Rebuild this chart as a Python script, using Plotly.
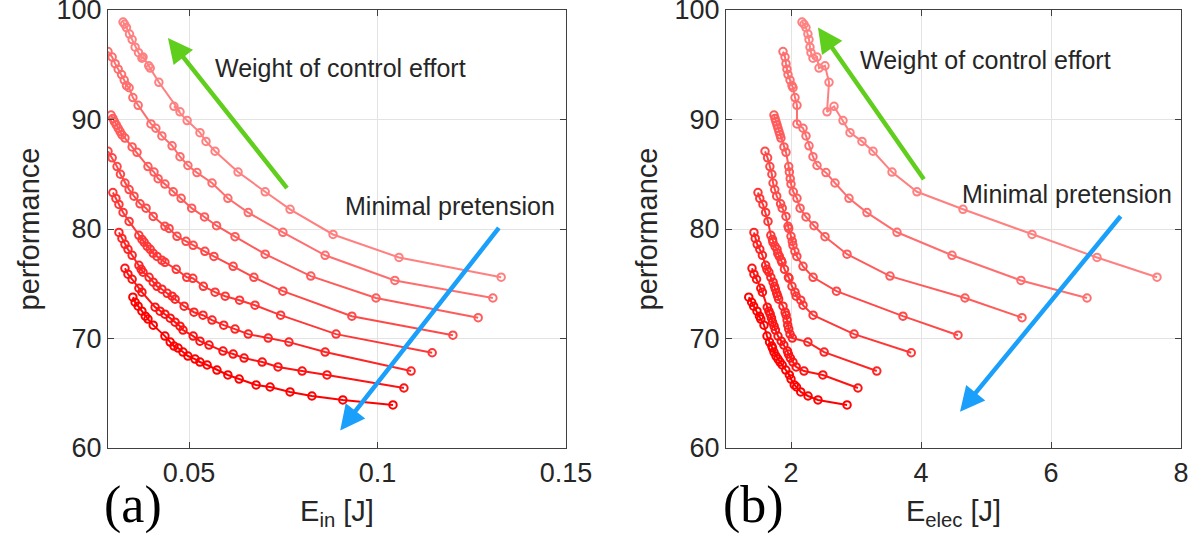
import plotly.graph_objects as go

# ---------------- data ----------------
# performance of each Pareto curve (same optimisation results in both panels)
perf_1 = [98.9, 98.7, 98.4, 97.8, 97.3, 96.6, 96.1, 95.6, 95.7, 94.7, 94.9, 93.4, 90.7, 91.2, 89.9, 88.8, 88.0, 87.1, 85.2, 83.4, 81.8, 79.5, 77.4, 75.6]
ein_1 = [0.0325, 0.0329, 0.0334, 0.0342, 0.0349, 0.0357, 0.0366, 0.0375, 0.0378, 0.0397, 0.0393, 0.0420, 0.0476, 0.0460, 0.0495, 0.0529, 0.0545, 0.0569, 0.0630, 0.0702, 0.0768, 0.0882, 0.1057, 0.1328]
eelec_1 = [2.169, 2.20, 2.23, 2.26, 2.277, 2.292, 2.308, 2.338, 2.40, 2.431, 2.523, 2.585, 2.554, 2.662, 2.80, 2.908, 3.092, 3.262, 3.554, 3.938, 4.646, 5.708, 6.708, 7.631]

perf_2 = [96.2, 95.7, 95.1, 94.6, 94.1, 93.6, 93.1, 92.9, 92.0, 91.3, 89.6, 89.2, 88.5, 87.6, 86.6, 85.8, 85.15, 84.2, 82.8, 81.5, 79.7, 77.6, 75.3, 73.7]
ein_2 = [0.0285, 0.0296, 0.0304, 0.0312, 0.0321, 0.0328, 0.0334, 0.0341, 0.0351, 0.0365, 0.0399, 0.0412, 0.0428, 0.0455, 0.0476, 0.0497, 0.0521, 0.0561, 0.0603, 0.0657, 0.0749, 0.0861, 0.1046, 0.1306]
eelec_2 = [1.877, 1.908, 1.923, 1.938, 1.954, 1.985, 2.015, 2.031, 2.062, 2.092, 2.092, 2.185, 2.231, 2.277, 2.338, 2.40, 2.538, 2.677, 2.892, 3.169, 3.631, 4.477, 5.538, 6.554]

perf_3 = [90.4, 90.1, 89.8, 89.5, 89.2, 88.9, 88.6, 88.3, 87.5, 87.0, 85.7, 85.2, 84.6, 84.1, 83.4, 82.8, 81.9, 81.1, 80.3, 79.3, 77.7, 75.7, 73.7, 71.9]
ein_3 = [0.0293, 0.0298, 0.0302, 0.0307, 0.0312, 0.0317, 0.0322, 0.0330, 0.0349, 0.0362, 0.0391, 0.0407, 0.0418, 0.0436, 0.0458, 0.0479, 0.0507, 0.0541, 0.0573, 0.0622, 0.0702, 0.0823, 0.0996, 0.1267]
eelec_3 = [1.738, 1.754, 1.769, 1.785, 1.80, 1.815, 1.831, 1.845, 1.892, 1.923, 1.965, 1.975, 1.988, 2.0, 2.035, 2.092, 2.14, 2.231, 2.354, 2.523, 2.862, 3.523, 4.677, 5.554]

perf_4 = [87.1, 86.5, 85.7, 85.0, 84.2, 83.6, 83.0, 82.3, 81.9, 81.15, 80.24, 80.05, 79.33, 78.87, 78.51, 77.96, 77.50, 76.59, 75.59, 74.32, 72.04, 70.3]
ein_4 = [0.0285, 0.0296, 0.0309, 0.0318, 0.0330, 0.0341, 0.0354, 0.0370, 0.0386, 0.0405, 0.0436, 0.0447, 0.0468, 0.0492, 0.0511, 0.0542, 0.0566, 0.0617, 0.0672, 0.0749, 0.0932, 0.1200]
eelec_4 = [1.60, 1.64, 1.675, 1.706, 1.724, 1.75, 1.78, 1.84, 1.865, 1.923, 1.954, 1.965, 2.0, 2.02, 2.03, 2.06, 2.09, 2.185, 2.34, 2.70, 3.723, 4.569]

perf_5 = [83.33, 82.79, 82.24, 81.51, 80.69, 79.42, 79.05, 78.78, 78.42, 78.14, 77.78, 77.5, 77.14, 76.96, 76.32, 75.59, 75.5, 74.77, 74.23, 73.86, 73.5, 73.04, 72.13, 70.4, 68.7]
ein_5 = [0.0298, 0.0306, 0.0314, 0.0325, 0.0341, 0.0367, 0.0375, 0.0381, 0.0389, 0.0397, 0.0405, 0.0415, 0.0428, 0.0436, 0.0466, 0.0494, 0.0510, 0.0538, 0.0569, 0.0596, 0.0634, 0.0675, 0.0743, 0.0890, 0.1145]
eelec_5 = [1.492, 1.52, 1.569, 1.61, 1.646, 1.69, 1.715, 1.723, 1.754, 1.785, 1.797, 1.82, 1.85, 1.862, 1.90, 1.96, 1.97, 2.015, 2.062, 2.08, 2.15, 2.185, 2.34, 2.97, 3.85]

perf_6 = [79.69, 79.14, 78.60, 78.14, 77.60, 76.68, 76.32, 76.05, 75.59, 75.14, 74.77, 74.50, 74.13, 73.86, 73.59, 72.95, 72.40, 72.13, 71.68, 71.22, 70.86, 70.40, 70.04, 69.67, 68.76, 67.03]
ein_6 = [0.0314, 0.0322, 0.0330, 0.0338, 0.0349, 0.0367, 0.0373, 0.0378, 0.0394, 0.0405, 0.0415, 0.0428, 0.0442, 0.0455, 0.0463, 0.0487, 0.0513, 0.0537, 0.0561, 0.0592, 0.0622, 0.0657, 0.0710, 0.0765, 0.0861, 0.1089]
eelec_6 = [1.43, 1.45, 1.48, 1.52, 1.56, 1.61, 1.63, 1.66, 1.69, 1.725, 1.745, 1.76, 1.78, 1.795, 1.81, 1.877, 1.91, 1.925, 1.94, 1.95, 1.965, 1.985, 2.02, 2.26, 2.51, 3.32]

perf_7 = [76.41, 75.87, 75.41, 74.59, 74.23, 72.86, 72.50, 72.22, 71.86, 71.49, 71.13, 70.77, 70.22, 69.76, 69.40, 68.85, 68.58, 68.21, 67.85, 67.40, 67.03, 66.67, 65.48]
ein_7 = [0.0330, 0.0338, 0.0349, 0.0367, 0.0375, 0.0410, 0.0423, 0.0436, 0.0450, 0.0463, 0.0476, 0.0484, 0.0511, 0.0529, 0.0553, 0.0590, 0.0617, 0.0646, 0.0694, 0.0736, 0.0800, 0.0866, 0.1070]
eelec_7 = [1.40, 1.43, 1.47, 1.535, 1.56, 1.635, 1.66, 1.68, 1.70, 1.715, 1.74, 1.76, 1.80, 1.85, 1.89, 1.945, 1.96, 1.99, 2.03, 2.08, 2.20, 2.49, 3.03]

perf_8 = [73.77, 73.31, 72.95, 72.50, 72.04, 71.77, 71.22, 70.22, 69.67, 69.31, 69.13, 68.76, 68.40, 68.12, 67.85, 67.58, 67.12, 66.67, 66.30, 65.76, 65.57, 65.12, 64.75, 64.39, 63.93]
ein_8 = [0.0351, 0.0357, 0.0365, 0.0375, 0.0384, 0.0391, 0.0405, 0.0436, 0.0450, 0.0460, 0.0471, 0.0484, 0.0497, 0.0516, 0.0529, 0.0548, 0.0574, 0.0603, 0.0633, 0.0678, 0.0715, 0.0768, 0.0826, 0.0908, 0.1041]
eelec_8 = [1.35, 1.395, 1.425, 1.477, 1.515, 1.535, 1.585, 1.631, 1.67, 1.705, 1.715, 1.738, 1.769, 1.80, 1.831, 1.865, 1.92, 1.975, 2.0, 2.05, 2.085, 2.15, 2.262, 2.415, 2.862]

perf_curves = [perf_1, perf_2, perf_3, perf_4, perf_5, perf_6, perf_7, perf_8]
ein_curves = [ein_1, ein_2, ein_3, ein_4, ein_5, ein_6, ein_7, ein_8]
eelec_curves = [eelec_1, eelec_2, eelec_3, eelec_4, eelec_5, eelec_6, eelec_7, eelec_8]

x_ticks_left = [0.05, 0.1, 0.15]
x_ticks_left_text = ["0.05", "0.1", "0.15"]
x_ticks_right = [2, 4, 6, 8]
y_ticks = [60, 70, 80, 90, 100]

# ---------------- styling ----------------
W, H = 1196, 545
def px_x(p):
    return p / W
def px_y(p):
    return 1 - p / H

n = len(perf_curves)
colors = []
for i in range(n):
    g = int(round(128 * (n - 1 - i) / (n - 1)))
    colors.append(f"rgb(255,{g},{g})")

fig = go.Figure()
for i in range(n):
    for xs, xa, ya in [(ein_curves[i], "x", "y"), (eelec_curves[i], "x2", "y2")]:
        fig.add_trace(go.Scatter(
            x=xs, y=perf_curves[i], xaxis=xa, yaxis=ya, mode="lines+markers",
            line=dict(color=colors[i], width=2),
            marker=dict(symbol="circle-open", size=7.5, color=colors[i], line=dict(width=2, color=colors[i])),
            showlegend=False, hoverinfo="skip",
        ))

tick_font = dict(family="Liberation Sans, Arial, sans-serif", size=27, color="#262626")
title_font = dict(family="Liberation Sans, Arial, sans-serif", size=29, color="#262626")
axis_common = dict(
    showline=True, linecolor="#404040", linewidth=1.3, mirror="ticks",
    ticks="inside", ticklen=6, tickwidth=1.3, tickcolor="#404040",
    showgrid=True, gridcolor="#e3e3e3", gridwidth=1, zeroline=False,
    tickfont=tick_font, ticklabeloverflow="allow", automargin=False,
)

fig.update_layout(
    width=W, height=H, margin=dict(l=0, r=0, t=0, b=0),
    paper_bgcolor="white", plot_bgcolor="white",
    xaxis=dict(domain=[px_x(108), px_x(566)], range=[0.0285, 0.15], tickvals=x_ticks_left,
               ticktext=x_ticks_left_text, anchor="y",
               title=dict(text="E<sub>in</sub> [J]", font=title_font, standoff=14), **axis_common),
    yaxis=dict(domain=[px_y(448), px_y(10)], range=[60, 100], tickvals=y_ticks, anchor="x",
               title=dict(text="performance", font=title_font, standoff=8), **axis_common),
    xaxis2=dict(domain=[px_x(726), px_x(1181)], range=[1, 8], tickvals=x_ticks_right, anchor="y2",
                title=dict(text="E<sub>elec</sub> [J]", font=title_font, standoff=14), **axis_common),
    yaxis2=dict(domain=[px_y(448), px_y(10)], range=[60, 100], tickvals=y_ticks, anchor="x2",
                title=dict(text="performance", font=title_font, standoff=8), **axis_common),
)

green = "rgb(96,206,28)"
blue = "rgb(26,160,250)"
text_font = dict(family="Liberation Sans, Arial, sans-serif", size=25, color="#262626")

def arrow(xref, yref, head, tail, color):
    fig.add_annotation(x=head[0], y=head[1], ax=tail[0], ay=tail[1], xref=xref, yref=yref,
                       axref=xref, ayref=yref, showarrow=True, arrowhead=2, arrowsize=1.1,
                       arrowwidth=4.5, arrowcolor=color, text="")

arrow("x", "y", (0.0444, 97.45), (0.0763, 83.6), green)
arrow("x", "y", (0.0901, 61.6), (0.1325, 80.24), blue)
arrow("x2", "y2", (2.415, 98.4), (4.06, 84.4), green)
arrow("x2", "y2", (4.6, 63.3), (7.09, 81.3), blue)

fig.add_annotation(x=0.0564, y=94.7, xref="x", yref="y", text="Weight of control effort",
                   showarrow=False, xanchor="left", yanchor="middle", font=text_font)
fig.add_annotation(x=0.0908, y=82.06, xref="x", yref="y", text="Minimal pretension",
                   showarrow=False, xanchor="left", yanchor="middle", font=text_font)
fig.add_annotation(x=3.03, y=95.45, xref="x2", yref="y2", text="Weight of control effort",
                   showarrow=False, xanchor="left", yanchor="middle", font=text_font)
fig.add_annotation(x=4.6, y=83.24, xref="x2", yref="y2", text="Minimal pretension",
                   showarrow=False, xanchor="left", yanchor="middle", font=text_font)

panel_font = dict(family="Liberation Serif, Times New Roman, serif", size=52, color="black")
fig.add_annotation(x=px_x(102), y=px_y(505), xref="paper", yref="paper", text="(a)",
                   showarrow=False, xanchor="left", yanchor="middle", font=panel_font)
fig.add_annotation(x=px_x(721), y=px_y(505), xref="paper", yref="paper", text="(b)",
                   showarrow=False, xanchor="left", yanchor="middle", font=panel_font)

fig.write_html("out.html", config={"displayModeBar": False},
               post_script="document.body.style.margin='0';")
